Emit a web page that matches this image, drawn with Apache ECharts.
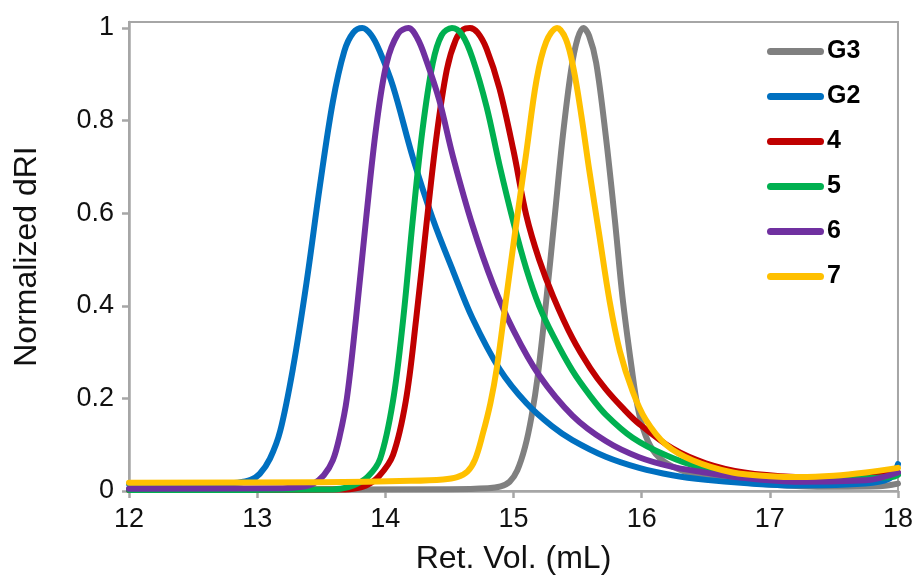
<!DOCTYPE html>
<html>
<head>
<meta charset="utf-8">
<script src="https://cdn.jsdelivr.net/npm/echarts@6/dist/echarts.min.js"></script>
<style>
html,body{margin:0;padding:0;background:#fff;}
#chart{width:916px;height:580px;}
</style>
</head>
<body>
<div id="chart"></div>
<script>
// ---- Data ----
const seriesNames = ['G3', 'G2', '4', '5', '6', '7'];
const seriesColors = ['#808080', '#0070C0', '#C00000', '#00B050', '#7030A0', '#FFC000'];

const xG3 = [12, 14.5, 14.8, 14.9, 14.97, 15.03, 15.09, 15.14, 15.19, 15.255, 15.32, 15.385, 15.45, 15.5, 15.545, 15.59, 15.645, 15.72, 15.79, 15.85, 15.92, 15.97, 16.03, 16.11, 16.24, 16.5, 17.0, 17.5, 17.85, 18];
const yG3 = [0.003, 0.004, 0.006, 0.01, 0.02, 0.045, 0.095, 0.16, 0.25, 0.41, 0.588, 0.767, 0.91, 0.977, 1.0, 0.983, 0.925, 0.767, 0.588, 0.42, 0.27, 0.18, 0.12, 0.08, 0.053, 0.03, 0.014, 0.009, 0.01, 0.016];

const xG2 = [12, 12.7, 12.85, 12.95, 13.02, 13.1, 13.18, 13.28, 13.385, 13.49, 13.59, 13.68, 13.75, 13.82, 13.89, 13.956, 14.06, 14.215, 14.37, 14.53, 14.68, 14.89, 15.1, 15.3, 15.46, 15.72, 15.98, 16.24, 16.5, 16.8, 17.2, 17.6, 17.85, 17.95, 18];
const yG2 = [0.015, 0.016, 0.018, 0.024, 0.037, 0.07, 0.13, 0.266, 0.45, 0.66, 0.84, 0.95, 0.99, 1.0, 0.985, 0.95, 0.874, 0.72, 0.588, 0.474, 0.373, 0.264, 0.19, 0.14, 0.11, 0.074, 0.05, 0.034, 0.024, 0.017, 0.012, 0.014, 0.02, 0.03, 0.058];

const x4 = [12, 13.6, 13.75, 13.85, 13.95, 14.06, 14.16, 14.24, 14.32, 14.4, 14.48, 14.55, 14.61, 14.66, 14.72, 14.79, 14.89, 15.0, 15.1, 15.2, 15.31, 15.46, 15.6, 15.72, 15.85, 15.98, 16.24, 16.5, 16.8, 17.2, 17.6, 18];
const y4 = [0.002, 0.003, 0.005, 0.012, 0.032, 0.078, 0.195, 0.37, 0.574, 0.767, 0.91, 0.975, 0.997, 1.0, 0.99, 0.955, 0.87, 0.735, 0.595, 0.5, 0.42, 0.33, 0.265, 0.22, 0.18, 0.145, 0.092, 0.06, 0.04, 0.03, 0.028, 0.04];

const x5 = [12, 13.5, 13.65, 13.75, 13.86, 13.96, 14.06, 14.14, 14.215, 14.29, 14.37, 14.44, 14.52, 14.6, 14.68, 14.79, 14.89, 15.0, 15.1, 15.2, 15.31, 15.46, 15.6, 15.72, 15.93, 16.19, 16.45, 16.97, 17.49, 17.95, 18];
const y5 = [0.002, 0.003, 0.005, 0.012, 0.03, 0.07, 0.195, 0.373, 0.588, 0.78, 0.924, 0.985, 1.0, 0.985, 0.935, 0.83, 0.705, 0.58, 0.48, 0.40, 0.335, 0.26, 0.205, 0.165, 0.115, 0.077, 0.052, 0.03, 0.026, 0.03, 0.035];

const x6 = [12, 13.2, 13.35, 13.44, 13.52, 13.59, 13.645, 13.7, 13.77, 13.85, 13.93, 14.01, 14.1, 14.18, 14.25, 14.32, 14.42, 14.53, 14.68, 14.84, 15.0, 15.2, 15.46, 15.72, 15.98, 16.24, 16.45, 16.71, 17.23, 17.75, 18];
const y6 = [0.005, 0.006, 0.009, 0.016, 0.034, 0.066, 0.12, 0.2, 0.37, 0.588, 0.788, 0.924, 0.988, 1.0, 0.978, 0.93, 0.845, 0.72, 0.574, 0.447, 0.347, 0.25, 0.163, 0.108, 0.073, 0.052, 0.042, 0.031, 0.02, 0.023, 0.04];

const x7 = [12, 13.5, 14.2, 14.45, 14.56, 14.64, 14.7, 14.76, 14.82, 14.87, 14.94, 15.02, 15.1, 15.18, 15.255, 15.34, 15.41, 15.47, 15.53, 15.59, 15.67, 15.75, 15.83, 15.93, 16.03, 16.19, 16.4, 16.71, 17.0, 17.23, 17.5, 17.75, 18];
const y7 = [0.018, 0.019, 0.022, 0.025, 0.03, 0.042, 0.068, 0.123, 0.19, 0.266, 0.41, 0.574, 0.731, 0.888, 0.97, 1.0, 0.975, 0.91, 0.81, 0.695, 0.552, 0.41, 0.302, 0.215, 0.155, 0.10, 0.066, 0.04, 0.032, 0.03, 0.033, 0.04, 0.05];

const yTickValues = [0, 0.2, 0.4, 0.6, 0.8, 1];
const yTickLabels = ['0', '0.2', '0.4', '0.6', '0.8', '1'];

const xsAll = [xG3, xG2, x4, x5, x6, x7];
const ysAll = [yG3, yG2, y4, y5, y6, y7];

// ---- Chart ----
const FONT = "'Liberation Sans', Arial, sans-serif";
const chart = echarts.init(document.getElementById('chart'), null, {renderer: 'canvas'});

const series = seriesNames.map((name, i) => ({
  name: name,
  type: 'line',
  data: xsAll[i].map((x, k) => [x, ysAll[i][k]]),
  smooth: 0.35,
  symbol: 'none',
  lineStyle: {color: seriesColors[i], width: 6, cap: 'round', join: 'round'},
  itemStyle: {color: seriesColors[i]},
  emphasis: {disabled: true},
  animation: false
}));

const iconPath = 'path://M3.5,0 L53.5,0 A3.5,3.5 0 0 1 53.5,7 L3.5,7 A3.5,3.5 0 0 1 3.5,0 Z';

chart.setOption({
  animation: false,
  backgroundColor: '#ffffff',
  textStyle: {fontFamily: FONT},
  grid: {
    left: 129, right: 17, top: 22, bottom: 86,
    show: true, borderColor: '#A6A6A6', borderWidth: 2, backgroundColor: 'transparent'
  },
  legend: {
    orient: 'vertical',
    left: 762,
    top: 34,
    itemWidth: 57,
    itemHeight: 7,
    itemGap: 20,
    icon: iconPath,
    data: seriesNames.map((n, i) => ({name: n, itemStyle: {color: seriesColors[i]}})),
    textStyle: {fontFamily: FONT, fontSize: 25, fontWeight: 'bold', color: '#000', lineHeight: 25, padding: [0, 0, 0, -2]}
  },
  xAxis: {
    type: 'value',
    min: 12, max: 18, interval: 1,
    name: 'Ret. Vol. (mL)',
    nameLocation: 'middle',
    nameGap: 52,
    nameTextStyle: {fontFamily: FONT, fontSize: 32, color: '#111'},
    axisLine: {show: true, onZero: false, lineStyle: {color: '#A6A6A6', width: 2.5}},
    axisTick: {show: true, inside: false, length: 7, lineStyle: {color: '#A6A6A6', width: 2.5}},
    axisLabel: {fontFamily: FONT, fontSize: 27, color: '#111', margin: 15},
    splitLine: {show: false}
  },
  yAxis: {
    type: 'value',
    min: 0, max: 1.013,
    name: 'Normalized dRI',
    nameLocation: 'middle',
    nameGap: 86,
    nameTextStyle: {fontFamily: FONT, fontSize: 32, color: '#111'},
    axisLine: {show: true, lineStyle: {color: '#A6A6A6', width: 2.5}},
    axisTick: {show: true, length: 7, customValues: yTickValues, lineStyle: {color: '#A6A6A6', width: 2.5}},
    axisLabel: {
      fontFamily: FONT, fontSize: 27, color: '#111', margin: 15,
      customValues: yTickValues,
      formatter: function (v) {
        const idx = yTickValues.findIndex(t => Math.abs(t - v) < 1e-9);
        return idx >= 0 ? yTickLabels[idx] : '';
      }
    },
    splitLine: {show: false}
  },
  series: series
});
</script>
</body>
</html>
